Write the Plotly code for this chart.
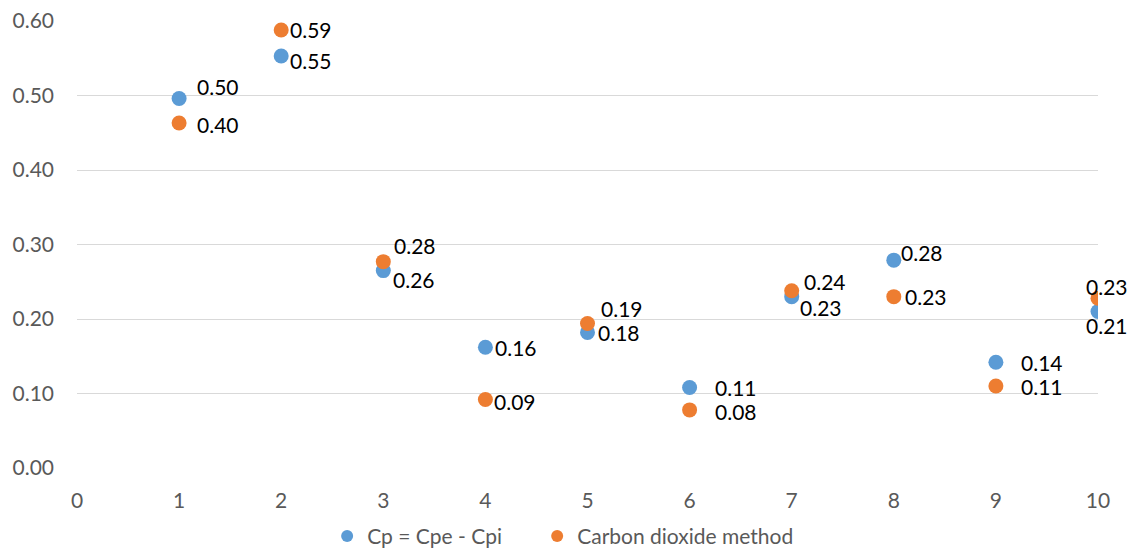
import plotly.graph_objects as go

x_vals = [1, 2, 3, 4, 5, 6, 7, 8, 9, 10]
cp_vals = [0.496, 0.553, 0.265, 0.162, 0.182, 0.108, 0.230, 0.279, 0.142, 0.210]
co2_vals = [0.463, 0.588, 0.277, 0.092, 0.194, 0.078, 0.238, 0.230, 0.110, 0.228]
cp_labels = ["0.50", "0.55", "0.26", "0.16", "0.18", "0.11", "0.23", "0.28", "0.14", "0.21"]
co2_labels = ["0.40", "0.59", "0.28", "0.09", "0.19", "0.08", "0.24", "0.23", "0.11", "0.23"]
series_names = ["Cp = Cpe - Cpi", "Carbon dioxide method"]
y_ticks = [0.0, 0.1, 0.2, 0.3, 0.4, 0.5, 0.6]
x_ticks = [0, 1, 2, 3, 4, 5, 6, 7, 8, 9, 10]

# label offsets in pixels (dx right, dy up)
cp_dx = [16, 7, 8, 8, 8, 23, 6, 5, 23, -14]
cp_dy = [12, -4, -9, 0, 0, 0, -11, 8, 0, -14]
co2_dx = [16, 7, 9, 7, 11, 23, 10, 9, 23, -14]
co2_dy = [-1, 0, 16, -2, 15, -2, 9, 0, 0, 12]

FONT = "Lato"
BLUE = "#5B9BD5"
ORANGE = "#ED7D31"

fig = go.Figure()
fig.add_trace(go.Scatter(x=x_vals, y=cp_vals, mode="markers", name=series_names[0],
                         marker=dict(color=BLUE, size=15), legend="legend"))
fig.add_trace(go.Scatter(x=x_vals, y=co2_vals, mode="markers", name=series_names[1],
                         marker=dict(color=ORANGE, size=15), legend="legend2"))

annotations = []
for xs, ys, labs, dxs, dys in [(x_vals, cp_vals, cp_labels, cp_dx, cp_dy),
                               (x_vals, co2_vals, co2_labels, co2_dx, co2_dy)]:
    for xi, yi, lab, dx, dy in zip(xs, ys, labs, dxs, dys):
        annotations.append(dict(x=xi, y=yi, text=lab, showarrow=False,
                                xanchor="left", yanchor="middle",
                                xshift=dx, yshift=dy,
                                font=dict(family=FONT, size=21, color="#000000")))

legend_common = dict(orientation="h", xanchor="left", y=-0.153, yanchor="middle",
                     font=dict(family=FONT, size=21, color="#595959"),
                     itemsizing="constant", itemwidth=30, bgcolor="rgba(0,0,0,0)")

fig.update_layout(
    width=1131, height=548,
    margin=dict(l=77, r=33, t=21, b=80, autoexpand=False),
    paper_bgcolor="white", plot_bgcolor="white",
    font=dict(family=FONT, size=21, color="#595959"),
    xaxis=dict(range=[0, 10], tickvals=x_ticks, ticktext=[str(v) for v in x_ticks],
               showgrid=False, zeroline=False, showline=False, ticks="",
               ticklabelstandoff=18, tickfont=dict(size=21, color="#595959")),
    yaxis=dict(range=[0, 0.6], tickvals=y_ticks, ticktext=[f"{v:.2f}" for v in y_ticks],
               showgrid=True, gridcolor="#D9D9D9", gridwidth=1.3, zeroline=False,
               showline=False, ticks="", ticklabelstandoff=22,
               tickfont=dict(size=21, color="#595959")),
    showlegend=True,
    legend=dict(x=0.245, **legend_common),
    legend2=dict(x=0.4507, **legend_common),
    annotations=annotations,
)

fig.write_html("out.html", config={"displayModeBar": False},
               post_script="document.body.style.margin='0';document.body.style.overflow='hidden';")
